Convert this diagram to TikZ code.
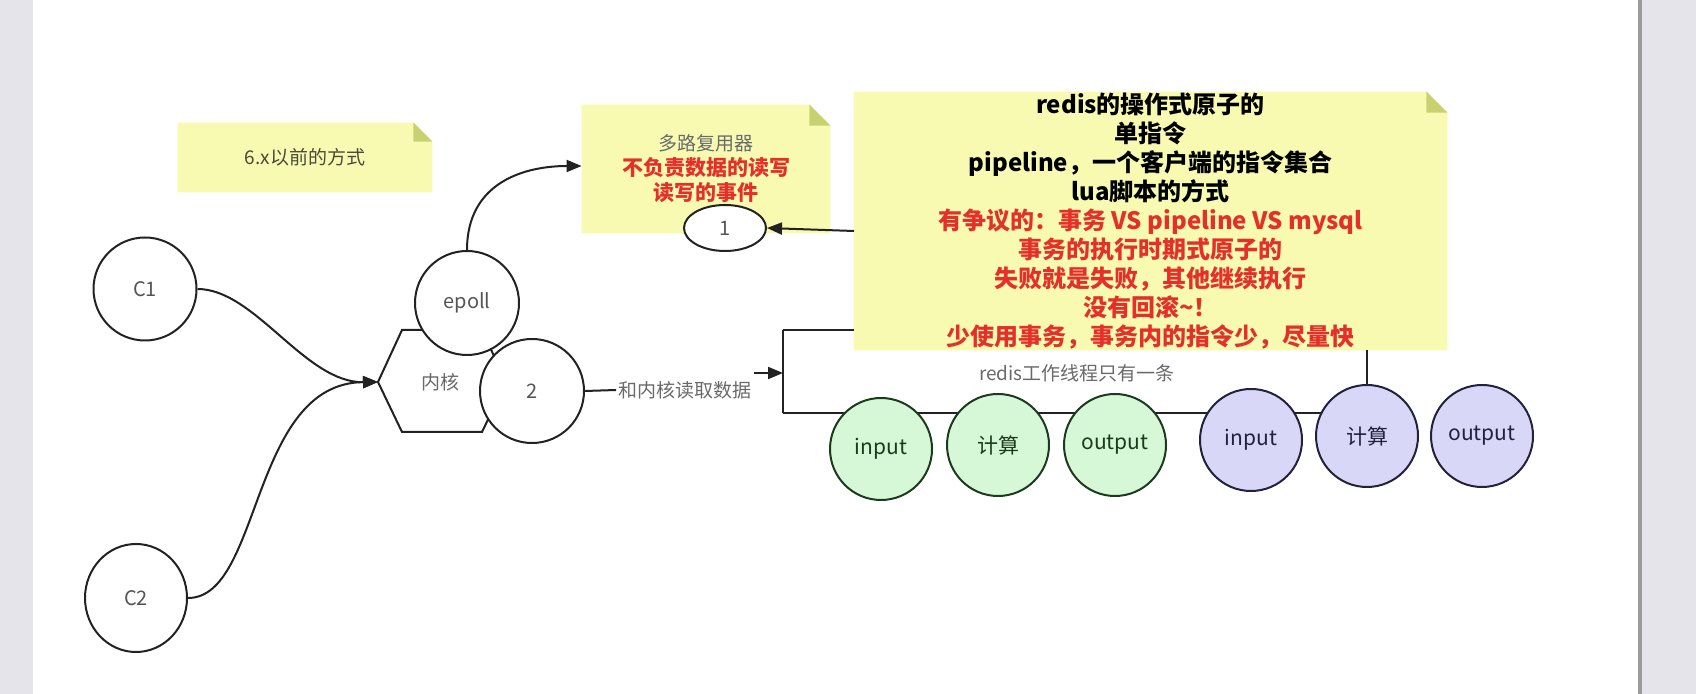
\documentclass[tikz,border=0pt]{standalone}
\usepackage{fontspec}
\setmainfont{Noto Sans CJK SC}
\usetikzlibrary{arrows.meta,calc,shapes.geometric}
\pgfdeclarelayer{background}
\pgfsetlayers{background,main}
\definecolor{notecol}{HTML}{F8FAB2}
\definecolor{foldcol}{HTML}{C8D170}
\definecolor{notered}{HTML}{E5302A}
\definecolor{txtgray}{HTML}{555555}
\definecolor{lightgray}{HTML}{6A6A6A}
\definecolor{oldtxt}{HTML}{4A4A38}
\definecolor{linecol}{HTML}{222222}
\definecolor{greenfill}{HTML}{D6F8D6}
\definecolor{greenline}{HTML}{1E3A1E}
\definecolor{purplefill}{HTML}{D9D7F7}
\definecolor{purpleline}{HTML}{22223C}
\definecolor{sidegray}{HTML}{E4E4EA}
\definecolor{edgegray}{HTML}{9A9A9A}
\begin{document}
\begin{tikzpicture}[x=0.5pt,y=-0.5pt,
  conn/.style={line width=1pt, draw=linecol},
  arrow/.style={conn, -{Triangle[length=7.5pt,width=6pt]}},
  circ/.style={circle, draw=linecol, line width=1pt, fill=white, inner sep=0pt,
    minimum size=51pt, font=\fontsize{10}{12}\selectfont, text=txtgray},
  oval/.style={ellipse, draw=linecol, line width=1pt, fill=white, inner sep=0pt,
    font=\fontsize{10}{12}\selectfont, text=txtgray},
  greenc/.style={circ, fill=greenfill, draw=greenline, text=greenline,
    font=\fontsize{10.5}{12}\selectfont},
  purplec/.style={circ, fill=purplefill, draw=purpleline, text=purpleline,
    font=\fontsize{10.5}{12}\selectfont},
  lbl/.style={inner sep=1pt, font=\fontsize{9.5}{11}\selectfont, text=lightgray},
  note/.style={align=center, inner sep=0pt},
  hexa/.style={conn, fill=white}
]
\useasboundingbox (0,0) rectangle (1696,694);
\begin{pgfonlayer}{background}
  \fill[sidegray] (0,0) rectangle (33,694);
  \fill[white] (33,0) rectangle (1638,694);
  \fill[edgegray] (1638,0) rectangle (1642,694);
  \fill[sidegray] (1642,0) rectangle (1696,694);
\end{pgfonlayer}

% notes (text)
\node[note, minimum width=127pt, minimum height=34.5pt,
  font=\fontsize{9.5}{11}\selectfont, text=oldtxt] (old) at (305,157.5) {6.x以前的方式};
\node[note, minimum width=124pt, minimum height=64pt] (mux) at (706,169)
  {{\fontsize{9.5}{12.5}\selectfont\textcolor{lightgray}{多路复用器}}\\[0.5pt]
   {\fontsize{10.5}{12.5}\selectfont\bfseries\textcolor{notered}{不负责数据的读写}}\\[0.5pt]
   {\fontsize{10.5}{12.5}\selectfont\bfseries\textcolor{notered}{读写的事件}}};
\node[note, minimum width=296.5pt, minimum height=129pt,
  font=\fontsize{12}{14.5}\selectfont\bfseries] (big) at (1150.5,221)
  {redis的操作式原子的\\
   单指令\\
   pipeline，一个客户端的指令集合\\
   lua脚本的方式\\
   \textcolor{notered}{有争议的：事务 VS pipeline VS mysql}\\
   \textcolor{notered}{事务的执行时期式原子的}\\
   \textcolor{notered}{失败就是失败，其他继续执行}\\
   \textcolor{notered}{没有回滚\textasciitilde！}\\
   \textcolor{notered}{少使用事务，事务内的指令少，尽量快}};

% clients
\node[circ, minimum size=51.5pt] (c1) at (145,289) {C1};
\node[oval, minimum width=51pt, minimum height=54pt] (c2) at (136,598) {C2};

% kernel hexagon
\coordinate (kin) at (378,382);
\draw[arrow] (c1.east) .. controls (255,289) and (305,383) .. (kin);
\draw[arrow] (c2.east) .. controls (262,598) and (250,383) .. (kin);
\draw[hexa] (kin) -- (402,330) -- (482,330) -- (506,382) -- (482,432) -- (402,432) -- cycle;
\node[lbl] (kernel) at (440,382) {内核};
\node[circ, minimum size=52pt] (epoll) at (467,303) {epoll};
\node[circ, minimum size=52pt] (two) at (532,391) {2};

\draw[arrow] (epoll.north) .. controls (467,182) and (525,166) .. (mux.west |- 0,166);

\node[oval, minimum width=41pt, minimum height=23pt] (one) at (725,228) {1};
\coordinate (nl) at (854,231);
\draw[arrow] (nl) -- (one.east);

% read from kernel
\node[lbl] (lab) at (685,390) {和内核读取数据};
\draw[conn] (two.east) -- (lab.west);
\coordinate (bt) at (783,330);
\coordinate (bm) at (783,373);
\coordinate (bb) at (783,413);
\draw[arrow] (lab.east |- bm) -- (bm);
\draw[conn] (bt) -- (bb);
\draw[conn] (bt) -- (bt -| big.west);

\node[lbl] (thread) at (1077,373) {redis工作线程只有一条};

% worker thread circles
\coordinate (pcc) at (1367,436);
\draw[conn] (bb) -- (bb -| pcc);
\node[greenc] (gi) at (881,449) {input};
\node[greenc] (gc) at (998,445) {计算};
\node[greenc] (go) at (1115,445) {output};
\node[purplec] (pi) at (1251,440) {input};
\node[purplec] (pc) at (pcc) {计算};
\node[purplec] (po) at (1482,436) {output};
\draw[conn] (pc.north) -- (pc.north |- big.south);

% note backgrounds
\begin{pgfonlayer}{background}
\foreach \n/\f in {old/9.5pt, mux/10.5pt, big/10.5pt}{
  \fill[notecol] (\n.south west) -- (\n.north west) -- ([xshift=-\f]\n.north east)
    -- ([yshift=-\f]\n.north east) -- (\n.south east) -- cycle;
  \fill[foldcol] ([xshift=-\f]\n.north east) -- ([xshift=-\f,yshift=-\f]\n.north east)
    -- ([yshift=-\f]\n.north east) -- cycle;
}
\end{pgfonlayer}
\end{tikzpicture}
\end{document}
